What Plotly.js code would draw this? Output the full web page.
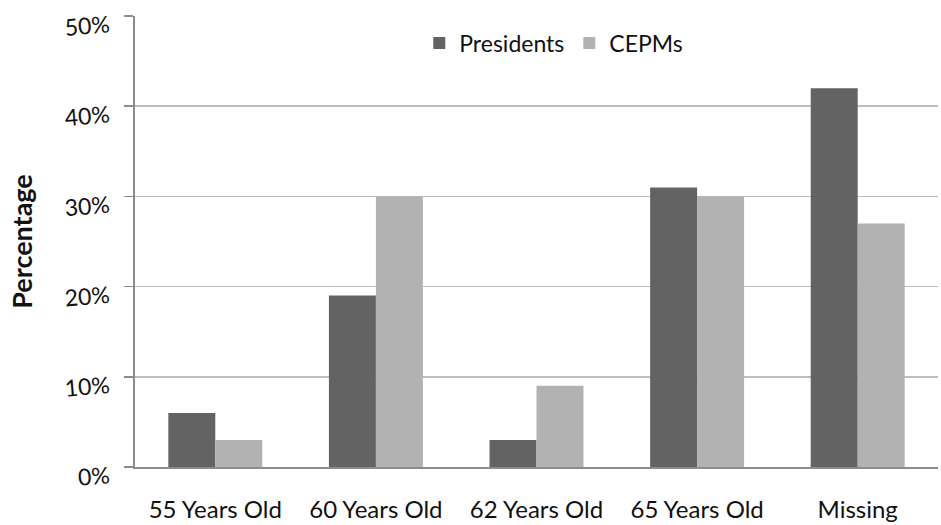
<!DOCTYPE html>
<html>
<head>
<meta charset="utf-8">
<script src="https://cdn.plot.ly/plotly-3.0.1.min.js"></script>
<style>
  html, body { margin: 0; padding: 0; background: #ffffff; }
  #chart { width: 941px; height: 525px; }
</style>
</head>
<body>
<div id="chart"></div>
<script>
// Retirement age categories
const categories = ["55 Years Old", "60 Years Old", "62 Years Old", "65 Years Old", "Missing"];
// Share of respondents (%) in each group
const presidents = [6, 19, 3, 31, 42];
const cepms = [3, 30, 9, 30, 27];
const yTickValues = [0, 10, 20, 30, 40, 50];
const yTickLabels = ["0%", "10%", "20%", "30%", "40%", "50%"];

const fontFamily = "Lato, 'Open Sans', sans-serif";
const textColor = "#111111";

const traces = [
  {
    type: "bar",
    name: "Presidents",
    x: categories,
    y: presidents,
    marker: { color: "#636363", line: { width: 0 } },
    hoverinfo: "x+y+name"
  },
  {
    type: "bar",
    name: "CEPMs",
    x: categories,
    y: cepms,
    marker: { color: "#b2b2b2", line: { width: 0 } },
    hoverinfo: "x+y+name"
  }
];

const layout = {
  width: 941,
  height: 525,
  margin: { l: 135, r: 3, t: 16, b: 58 },
  paper_bgcolor: "#ffffff",
  plot_bgcolor: "#ffffff",
  font: { family: fontFamily, size: 23, color: textColor },
  barmode: "group",
  bargap: 0.415,
  bargroupgap: 0,
  showlegend: true,
  legend: {
    orientation: "h",
    x: 0.354,
    xanchor: "left",
    y: 0.94,
    yanchor: "middle",
    font: { family: fontFamily, size: 23, color: textColor },
    bgcolor: "rgba(0,0,0,0)",
    itemwidth: 30,
    tracegroupgap: 0
  },
  xaxis: {
    type: "category",
    showline: true,
    linecolor: "#8c8c8c",
    linewidth: 2,
    ticks: "",
    showgrid: false,
    zeroline: false,
    tickfont: { family: fontFamily, size: 24, color: textColor },
    ticklabelstandoff: 20
  },
  yaxis: {
    range: [0, 50],
    tickvals: yTickValues,
    ticktext: yTickLabels,
    showline: true,
    linecolor: "#8c8c8c",
    linewidth: 2,
    ticks: "outside",
    ticklen: 9,
    tickcolor: "#8c8c8c",
    tickwidth: 1.5,
    showgrid: true,
    gridcolor: "#bdbdbd",
    gridwidth: 1.5,
    zeroline: false,
    tickangle: -5,
    ticklabelstandoff: 10,
    ticklabelshift: 8,
    tickfont: { family: fontFamily, size: 23, color: textColor },
    title: {
      text: "<b>Percentage</b>",
      font: { family: fontFamily, size: 27, color: textColor },
      standoff: 23
    }
  }
};

Plotly.newPlot("chart", traces, layout, { displayModeBar: false, staticPlot: true });
</script>
</body>
</html>
